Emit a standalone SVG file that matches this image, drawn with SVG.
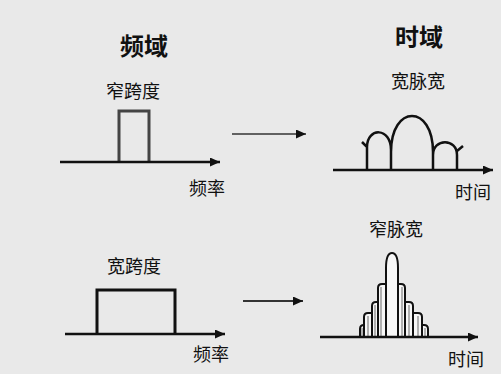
<svg xmlns="http://www.w3.org/2000/svg" width="501" height="374" viewBox="0 0 501 374">
<defs>
<style>
.t{font-family:"Noto Sans CJK SC","Noto Sans",sans-serif;fill:#111;text-anchor:middle}
.h{font-size:24px;font-weight:bold}
.l{font-size:18px}
.ax{stroke:#111;stroke-width:2.5;fill:none}
.ar{stroke:#333;fill:none}
.pl{stroke:#111;stroke-width:2.5;fill:none}
.sb{stroke:#111;stroke-width:2;fill:#f7f7f7}
.in{stroke:#999;stroke-width:1.5;fill:none}
</style>
<marker id="ah" markerUnits="userSpaceOnUse" markerWidth="11" markerHeight="10" refX="10" refY="4.5" orient="auto">
<path d="M0,0 L10,4.5 L0,9 z" fill="#111"/>
</marker>
</defs>
<rect width="501" height="374" fill="#e9e9e9"/>
<g id="titles">
<text class="t h" x="144" y="55">频域</text>
<text class="t h" x="419" y="46">时域</text>
</g>
<g id="freq-narrow">
<text class="t l" x="133" y="98">窄跨度</text>
<path d="M119,162 V111 H149 V162" stroke="#444" stroke-width="3" fill="none"/>
<text class="t l" x="207" y="195">频率</text>
</g>
<g id="freq-wide">
<text class="t l" x="134" y="273">宽跨度</text>
<path d="M97,334 V290 H175 V334" stroke="#111" stroke-width="3" fill="none"/>
<text class="t l" x="211" y="361">频率</text>
</g>
<g id="time-wide">
<text class="t l" x="418" y="88">宽脉宽</text>
<path class="pl" d="M367,170 V147 M362,142 L367,147 C367,127 391,127 391,150 V170 M391,152 C391,104 433,104 433,152 V170 M433,155 C433,138 457,138 457,155 V170 M457,151 L463,146"/>
<text class="t l" x="473" y="199">时间</text>
</g>
<g id="time-narrow">
<text class="t l" x="396" y="236">窄脉宽</text>
<path class="sb" d="M360,337 V329 Q360,325 364,325 H424 Q428,325 428,329 V337 Z"/>
<path class="sb" d="M364,337 V317 Q364,313 368,313 H418 Q422,313 422,317 V337 Z"/>
<path class="sb" d="M372,337 V306 Q372,302 376,302 H409 Q413,302 413,306 V337 Z"/>
<path class="sb" d="M378,337 V288 Q378,284 382,284 H401 Q405,284 405,288 V337 Z"/>
<path class="sb" d="M386,337 V268 Q386,253 392,253 Q398,253 398,268 V337 Z"/>
<path class="in" d="M362,328 V336 M368,316 V336 M375,305 V336 M381,287 V336 M402,287 V336 M409,305 V336 M418,316 V336 M425,328 V336"/>
<text class="t l" x="466" y="366">时间</text>
</g>
<g id="connectors">
<line class="ax" x1="60" y1="162" x2="220" y2="162" marker-end="url(#ah)"/>
<line class="ax" x1="333" y1="170" x2="493" y2="170" marker-end="url(#ah)"/>
<line class="ax" x1="65" y1="334" x2="225" y2="334" marker-end="url(#ah)"/>
<line class="ax" x1="320" y1="337" x2="478" y2="337" marker-end="url(#ah)"/>
<line class="ar" stroke-width="1.5" x1="232" y1="134" x2="306" y2="134" marker-end="url(#ah)"/>
<line class="ar" stroke-width="2" x1="243" y1="301" x2="303" y2="301" marker-end="url(#ah)"/>
</g>
</svg>
